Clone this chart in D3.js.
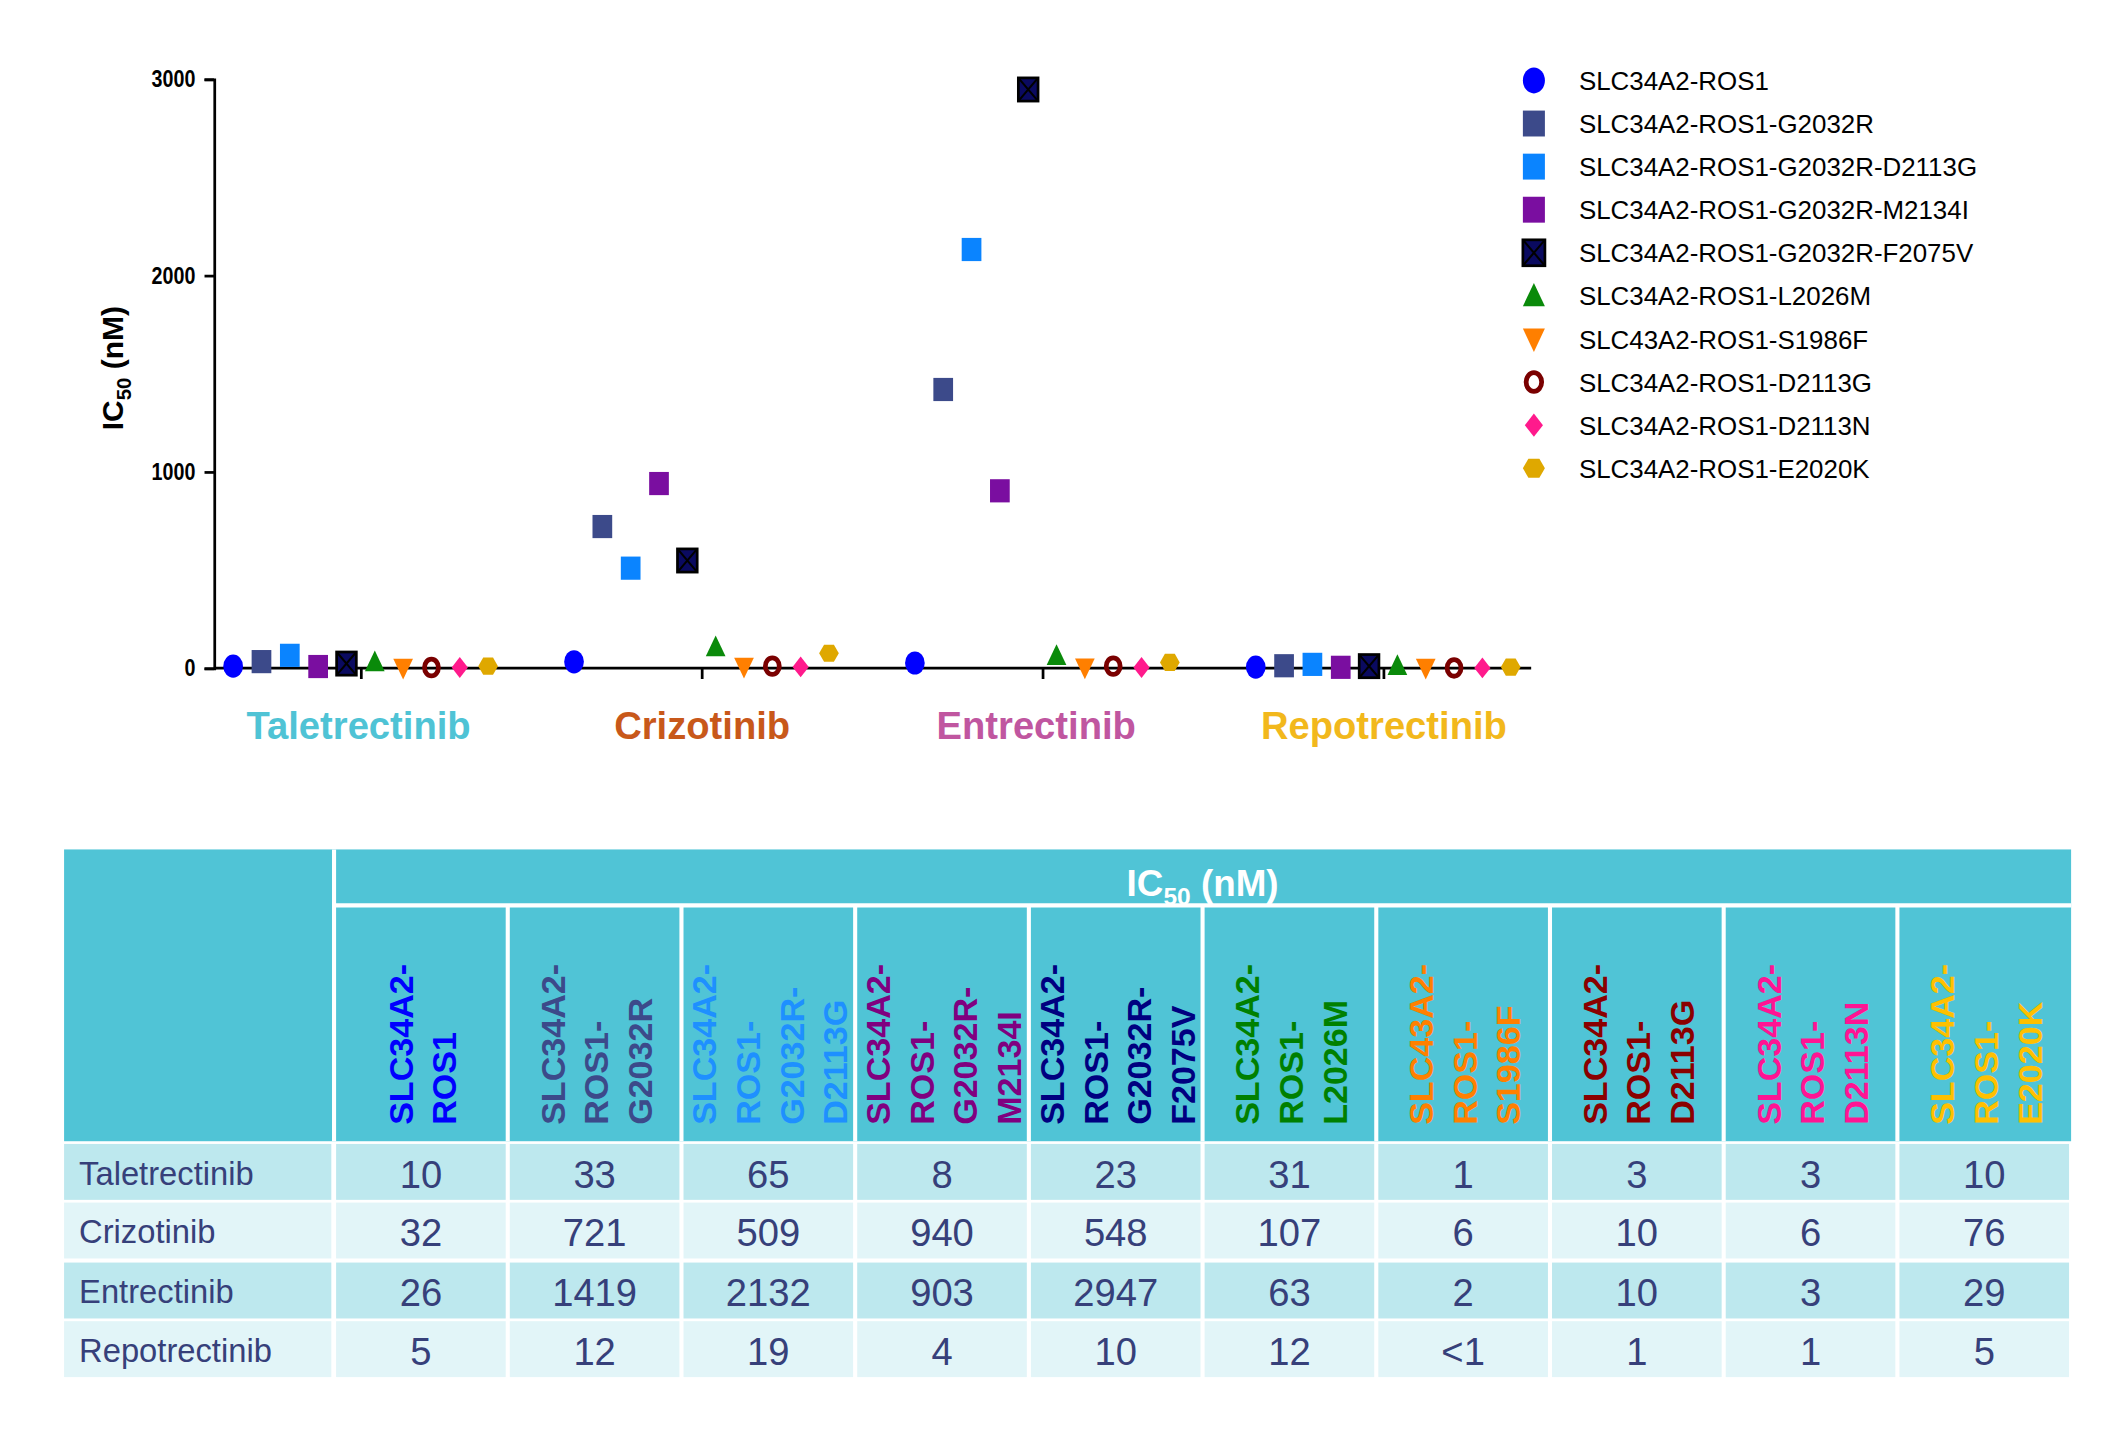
<!DOCTYPE html><html><head><meta charset="utf-8"><script src="https://cdn.jsdelivr.net/npm/d3@7"></script>
<style>body{margin:0;background:#fff}svg{display:block}</style></head><body>
<script>
const drugs=["Taletrectinib","Crizotinib","Entrectinib","Repotrectinib"];
const drugColors=["#4FC3D5","#C8581A","#C056A0","#F2B81C"];
const series=["SLC34A2-ROS1","SLC34A2-ROS1-G2032R","SLC34A2-ROS1-G2032R-D2113G","SLC34A2-ROS1-G2032R-M2134I","SLC34A2-ROS1-G2032R-F2075V","SLC34A2-ROS1-L2026M","SLC43A2-ROS1-S1986F","SLC34A2-ROS1-D2113G","SLC34A2-ROS1-D2113N","SLC34A2-ROS1-E2020K"];
const headerLines=[["SLC34A2-","ROS1"],["SLC34A2-","ROS1-","G2032R"],["SLC34A2-","ROS1-","G2032R-","D2113G"],["SLC34A2-","ROS1-","G2032R-","M2134I"],["SLC34A2-","ROS1-","G2032R-","F2075V"],["SLC34A2-","ROS1-","L2026M"],["SLC43A2-","ROS1-","S1986F"],["SLC34A2-","ROS1-","D2113G"],["SLC34A2-","ROS1-","D2113N"],["SLC34A2-","ROS1-","E2020K"]];
const markerColors=["#0000FF","#3C4A8A","#0A84FF","#7A0EA0","#0A0A60","#0A8A0A","#FF7F00","#7A0000","#FF1A8C","#DFA800"];
const headerColors=["#0000FF","#3C4A8A","#1E90FF","#800080","#000080","#008000","#FF8000","#8B0000","#FF1493","#FFC000"];
const shapes=["ellipse","square","square","square","xsquare","tri","itri","ring","diamond","hex"];
const valueLabels=[["10","33","65","8","23","31","1","3","3","10"],["32","721","509","940","548","107","6","10","6","76"],["26","1419","2132","903","2947","63","2","10","3","29"],["5","12","19","4","10","12","<1","1","1","5"]];
const yTicks=[0,1000,2000,3000];
const values=valueLabels.map(r=>r.map(v=>v==="<1"?0.5:+v));

const svg=d3.select("body").append("svg").attr("width",2127).attr("height",1433).attr("viewBox","0 0 1560 1051");
const F="Liberation Sans, Arial, Helvetica, sans-serif";
const y=d3.scaleLinear().domain([0,3000]).range([490,58]);
const xg=d3.scaleBand().domain(drugs).range([140,1140]).padding(0);
const xi=d3.scalePoint().domain(series).range([0,187]);
// axes
const ax=svg.append("g").attr("transform","translate(157,0)").call(d3.axisLeft(y).tickValues(yTicks).tickSize(7).tickFormat(d3.format("d")));
ax.select(".domain").attr("stroke","#000").attr("stroke-width",2);
ax.selectAll(".tick line").attr("stroke-width",2);
ax.selectAll("text").attr("font-family",F).attr("font-weight","bold").attr("font-size",17).attr("transform","scale(0.85,1)").attr("dx",-2);
ax.selectAll(".tick text").attr("x",-12/0.85);
svg.append("line").attr("x1",157).attr("x2",1123).attr("y1",490).attr("y2",490).attr("stroke","#000").attr("stroke-width",2);
[265,515,765,1015].forEach(t=>svg.append("line").attr("x1",t).attr("x2",t).attr("y1",490).attr("y2",498).attr("stroke","#000").attr("stroke-width",2));
svg.append("text").attr("transform","translate(90,270) rotate(-90)").attr("text-anchor","middle").attr("font-family",F).attr("font-weight","bold").attr("font-size",22)
 .html('IC<tspan font-size="15" dy="6">50</tspan><tspan dy="-6"> (nM)</tspan>');
drugs.forEach((d,i)=>svg.append("text").attr("x",xg(d)+xg.bandwidth()/2+(i===0?-2:i===2?-5:0)).attr("y",542).attr("text-anchor","middle").attr("font-family",F).attr("font-weight","bold").attr("font-size",28).attr("fill",drugColors[i]).text(d));
function marker(g,s,c,sz){
 const h=sz/2;
 if(s==="ellipse")g.append("ellipse").attr("rx",h*0.85).attr("ry",h).attr("fill",c);
 else if(s==="square")g.append("rect").attr("x",-h*0.85).attr("y",-h).attr("width",h*1.7).attr("height",h*2).attr("fill",c);
 else if(s==="xsquare"){g.append("rect").attr("x",-h*0.85).attr("y",-h).attr("width",h*1.7).attr("height",h*2).attr("fill",c).attr("stroke","#000").attr("stroke-width",2);
  g.append("path").attr("d",`M${-h*0.85},${-h}L${h*0.85},${h}M${h*0.85},${-h}L${-h*0.85},${h}`).attr("stroke","#000").attr("stroke-width",1.5);}
 else if(s==="tri")g.append("path").attr("d",`M0,${-h}L${h*0.85},${h*0.8}L${-h*0.85},${h*0.8}Z`).attr("fill",c);
 else if(s==="itri")g.append("path").attr("d",`M0,${h}L${h*0.85},${-h*0.8}L${-h*0.85},${-h*0.8}Z`).attr("fill",c);
 else if(s==="ring")g.append("ellipse").attr("rx",h*0.6).attr("ry",h*0.72).attr("fill","none").attr("stroke",c).attr("stroke-width",3.5);
 else if(s==="diamond")g.append("path").attr("d",`M0,${-h*0.9}L${h*0.7},0L0,${h*0.9}L${-h*0.7},0Z`).attr("fill",c);
 else if(s==="hex"){const p=d3.range(6).map(k=>{const a=Math.PI/3*k;return [Math.cos(a)*h*0.85,Math.sin(a)*h*0.85];});g.append("path").attr("d","M"+p.join("L")+"Z").attr("fill",c);}
}
drugs.forEach((d,i)=>series.forEach((s,j)=>{
 const g=svg.append("g").attr("transform",`translate(${xg(d)+31+xi(s)},${y(values[i][j])})`);
 marker(g,shapes[j],markerColors[j],17);
}));
// legend
series.forEach((s,j)=>{
 const yy=59+j*31.6;
 marker(svg.append("g").attr("transform",`translate(1125,${yy})`),shapes[j],markerColors[j],19);
 svg.append("text").attr("x",1158).attr("y",yy+7).attr("font-family",F).attr("font-size",19).text(s);
});
// table
const colX=d3.range(11).map(k=>245+k*127.4);
const T=svg.append("g");
T.append("rect").attr("x",47).attr("y",623).attr("width",1472).attr("height",214).attr("fill","#50C4D6");
T.append("line").attr("x1",245).attr("x2",245).attr("y1",623).attr("y2",837).attr("stroke","#fff").attr("stroke-width",3);
T.append("line").attr("x1",245).attr("x2",1519).attr("y1",664).attr("y2",664).attr("stroke","#fff").attr("stroke-width",3);
colX.slice(1,10).forEach(x=>T.append("line").attr("x1",x).attr("x2",x).attr("y1",664).attr("y2",837).attr("stroke","#fff").attr("stroke-width",3));
T.append("text").attr("x",882).attr("y",657).attr("text-anchor","middle").attr("fill","#fff").attr("font-family",F).attr("font-weight","bold").attr("font-size",27)
 .html('IC<tspan font-size="18" dy="7">50</tspan><tspan dy="-7"> (nM)</tspan>');
headerLines.forEach((ls,k)=>{
 const cx=colX[k]+63.7, sp=32, x0=cx-(ls.length-1)*sp/2;
 ls.forEach((l,m)=>T.append("text").attr("transform",`translate(${x0+m*sp+10},825) rotate(-90)`).attr("font-family",F).attr("font-weight","bold").attr("font-size",25).attr("fill",headerColors[k]).text(l));
});
const rowY=[839,882,926,969], rh=41;
drugs.forEach((d,i)=>{
 const fill=i%2===0?"#BDE8EE":"#E2F5F8";
 T.append("rect").attr("x",47).attr("y",rowY[i]).attr("width",196).attr("height",rh).attr("fill",fill);
 T.append("text").attr("x",58).attr("y",rowY[i]+30).attr("font-family",F).attr("font-size",24).attr("fill","#36407A").text(d);
 valueLabels[i].forEach((v,k)=>{
  T.append("rect").attr("x",colX[k]+1.5).attr("y",rowY[i]).attr("width",124.4).attr("height",rh).attr("fill",fill);
  T.append("text").attr("x",colX[k]+63.7).attr("y",rowY[i]+32).attr("text-anchor","middle").attr("font-family",F).attr("font-size",28).attr("fill","#36407A").text(v);
 });
});
</script></body></html>
